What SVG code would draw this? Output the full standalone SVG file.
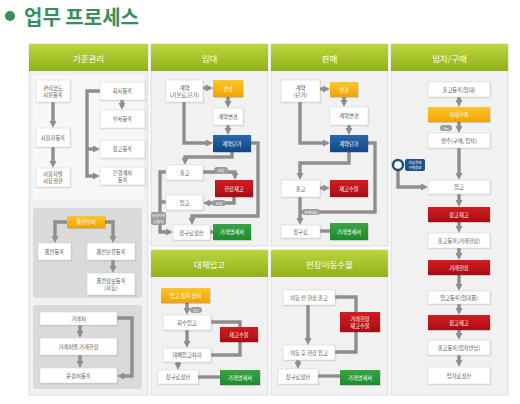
<svg xmlns="http://www.w3.org/2000/svg" width="520" height="404" viewBox="0 0 520 404">
<defs>
<linearGradient id="gh" x1="0" y1="0" x2="0" y2="1"><stop offset="0" stop-color="#bdd63c"/><stop offset="1" stop-color="#8fb11b"/></linearGradient>
<linearGradient id="go" x1="0" y1="0" x2="0" y2="1"><stop offset="0" stop-color="#fcc62a"/><stop offset="1" stop-color="#f0a300"/></linearGradient>
<linearGradient id="gb" x1="0" y1="0" x2="0" y2="1"><stop offset="0" stop-color="#2a68aa"/><stop offset="1" stop-color="#134783"/></linearGradient>
<linearGradient id="gr" x1="0" y1="0" x2="0" y2="1"><stop offset="0" stop-color="#d21c22"/><stop offset="1" stop-color="#a90e14"/></linearGradient>
<linearGradient id="gg" x1="0" y1="0" x2="0" y2="1"><stop offset="0" stop-color="#38a544"/><stop offset="1" stop-color="#1f8a2c"/></linearGradient>
<filter id="sh" x="-10%" y="-10%" width="130%" height="150%"><feDropShadow dx="0.6" dy="0.8" stdDeviation="0.6" flood-color="#000" flood-opacity="0.2"/></filter>
<marker id="ah" viewBox="0 0 10 10" refX="2" refY="5" markerWidth="2.2" markerHeight="2.2" orient="auto" markerUnits="strokeWidth"><path d="M0,0 L10,5 L0,10 z" fill="#8e8e8e"/></marker>
</defs>
<style>
.t{font-family:"Noto Sans CJK KR","Noto Sans",sans-serif;font-size:5.3px;fill:#555;text-anchor:middle;dominant-baseline:central}
.w{fill:#fff}
.h{font-family:"Noto Sans CJK KR","Noto Sans",sans-serif;font-size:8.5px;fill:#fff;text-anchor:middle;dominant-baseline:central}
.nd{fill:#fff;stroke:#d0d0d0;stroke-width:0.5;filter:url(#sh)}
.or{fill:url(#go);filter:url(#sh)}
.bl{fill:url(#gb);filter:url(#sh)}
.rd{fill:url(#gr);filter:url(#sh)}
.gn{fill:url(#gg);filter:url(#sh)}
.pb{fill:#f1f1f1;stroke:#d8d8d8;stroke-width:0.8}
.ph{fill:url(#gh)}
.sp{fill:#dadada}
.c{fill:none;stroke:#8e8e8e;stroke-width:3.4}
.a{marker-end:url(#ah)}
.tag{fill:#9c9c9c}
.tt{font-size:3.6px;fill:#fff}
</style>
<rect width="520" height="404" fill="#fff"/>
<g id="title">
<circle cx="10" cy="16" r="5" fill="#3a8d5c"/>
<text x="24" y="24.5" font-family="'Noto Sans CJK KR','Noto Sans',sans-serif" font-size="20" font-weight="bold" fill="#3a8d5c">업무 프로세스</text>
</g>
<g id="panels">
<rect class="pb" x="29" y="44" width="119" height="351"/><rect class="ph" x="29" y="44" width="119" height="27"/><text class="h" x="88.5" y="57.5">기준관리</text>
<rect x="32" y="74" width="113" height="126" fill="#f7f7f7" stroke="#dedede" stroke-width="0.5"/>
<rect class="sp" x="33" y="208" width="109" height="90" rx="3"/>
<rect class="sp" x="33" y="305" width="109" height="84" rx="3"/>
<rect class="pb" x="151" y="44" width="117" height="202"/><rect class="ph" x="151" y="44" width="117" height="27"/><text class="h" x="209.5" y="57.5">임대</text>
<rect class="pb" x="271" y="44" width="117" height="202"/><rect class="ph" x="271" y="44" width="117" height="27"/><text class="h" x="329.5" y="57.5">판매</text>
<rect class="pb" x="151" y="250" width="117" height="145"/><rect class="ph" x="151" y="250" width="117" height="27"/><text class="h" x="209.5" y="263.5">대체입고</text>
<rect class="pb" x="271" y="250" width="117" height="145"/><rect class="ph" x="271" y="250" width="117" height="27"/><text class="h" x="329.5" y="263.5">현장이동수불</text>
<rect class="pb" x="391" y="44" width="117" height="351"/><rect class="ph" x="391" y="44" width="117" height="27"/><text class="h" x="449.5" y="57.5">임차/구매</text>
</g>
<g id="connectors">
<path class="c a" d="M53,102 V122"/>
<path class="c a" d="M53,147 V162"/>
<path class="c a" d="M100,91 H87 V176 H94"/>
<path class="c a" d="M87,149 H94"/>
<path class="c a" d="M122,100 V104"/>
<path class="c a" d="M67,222 H55 V237"/>
<path class="c a" d="M105,222 H113 V237"/>
<path class="c a" d="M113,260 V267"/>
<path class="c a" d="M80,325 V332"/>
<path class="c a" d="M80,355 V362"/>
<path class="c a" d="M117,318 H132 V376 H123"/>
<path class="c a" d="M203,88 H207"/>
<path class="c a" d="M228,97 V102"/>
<path class="c a" d="M228,125 V129"/>
<path class="c a" d="M184,102 V143 H207"/>
<path class="c a" d="M232,152 V157 H185 V159"/>
<path class="c a" d="M251,143 H258 V216 H192 V219"/>
<path class="c a" d="M203,172 H235 V174"/>
<path class="c a" d="M234,197 V203 H209"/>
<path class="c a" d="M166,172 H160 V232 H167"/>
<path class="c" d="M166,202 H160"/>
<path class="c" d="M210,232 H213"/>
<path class="c a" d="M320,89 H324"/>
<path class="c a" d="M344,97 V101"/>
<path class="c a" d="M349,125 V129"/>
<path class="c a" d="M300,102 V143 H324"/>
<path class="c a" d="M349,152 V163 H300 V174"/>
<path class="c a" d="M320,188 H324"/>
<path class="c" d="M368,143 H375 V212 H300"/>
<path class="c a" d="M300,197 V219"/>
<path class="c" d="M320,231 H330"/>
<path class="c a" d="M187,303 V309"/>
<path class="c a" d="M187,330 V342"/>
<path class="c" d="M211,322 H240 V355 H211"/>
<path class="c a" d="M178,362 V364"/>
<path class="c" d="M198,377 H220"/>
<path class="c a" d="M308,305 V339"/>
<path class="c" d="M335,297 H356 V352 H335"/>
<path class="c a" d="M298,360 V363"/>
<path class="c" d="M318,376 H340"/>
<path class="c a" d="M459,97 V101"/>
<path class="c a" d="M459,122 V127"/>
<path class="c a" d="M459,148 V174"/>
<path class="c a" d="M459,194 V201"/>
<path class="c a" d="M459,222 V227"/>
<path class="c a" d="M459,248 V254"/>
<path class="c a" d="M459,275 V285"/>
<path class="c a" d="M459,304 V309"/>
<path class="c a" d="M459,330 V334"/>
<path class="c a" d="M459,355 V361"/>
<path class="c a" d="M398,171 V187 H422"/>
</g>
<g id="n-code"><rect class="nd" x="36" y="80" width="34" height="22"/><text class="t" x="53" y="87.5">관리코드</text><text class="t" x="53" y="95">사원등록</text></g>
<g id="n-user"><rect class="nd" x="36" y="128" width="34" height="19"/><text class="t" x="53" y="137.5">사용자등록</text></g>
<g id="n-auth"><rect class="nd" x="36" y="168" width="34" height="19"/><text class="t" x="53" y="174">사용자별</text><text class="t" x="53" y="181">사용권한</text></g>
<g id="n-company"><rect class="nd" x="100" y="82" width="45" height="18"/><text class="t" x="122.5" y="91">회사등록</text></g>
<g id="n-dept"><rect class="nd" x="100" y="110" width="45" height="18"/><text class="t" x="122.5" y="119">부서등록</text></g>
<g id="n-wh"><rect class="nd" x="100" y="140" width="45" height="18"/><text class="t" x="122.5" y="149">창고등록</text></g>
<g id="n-bank"><rect class="nd" x="100" y="167" width="45" height="18"/><text class="t" x="122.5" y="172.5">은행계좌</text><text class="t" x="122.5" y="179.5">등록</text></g>
<g id="n-pnum"><rect class="or" x="67" y="216" width="38" height="12"/><text class="t w" x="86" y="222">품번부여</text></g>
<g id="n-preg"><rect class="nd" x="38" y="243" width="33" height="17"/><text class="t" x="54.5" y="251.5">품번등록</text></g>
<g id="n-pcls"><rect class="nd" x="87" y="243" width="48" height="17"/><text class="t" x="111" y="251.5">품번분류등록</text></g>
<g id="n-pinfo"><rect class="nd" x="87" y="273" width="48" height="22"/><text class="t" x="111" y="280.5">품번정보등록</text><text class="t" x="111" y="287.5">(자동)</text></g>
<g id="n-client"><rect class="nd" x="40" y="312" width="77" height="13"/><text class="t" x="78.5" y="318.5">거래처</text></g>
<g id="n-site"><rect class="nd" x="40" y="338" width="77" height="17"/><text class="t" x="78.5" y="346.5">거래처별 거래현장</text></g>
<g id="n-freight"><rect class="nd" x="40" y="368" width="77" height="15"/><text class="t" x="78.5" y="375.5">운송비등록</text></g>
<g id="r-contract"><rect class="nd" x="166" y="80" width="37" height="22"/><text class="t" x="184.5" y="87.5">계약</text><text class="t" x="184.5" y="94.5">(기본료,단가)</text></g>
<g id="r-change"><rect class="or" x="213" y="80" width="30" height="17"/><text class="t w" x="228" y="88.5">변경</text></g>
<g id="r-cchange"><rect class="nd" x="213" y="108" width="30" height="17"/><text class="t" x="228" y="116.5">계약변경</text></g>
<g id="r-price"><rect class="bl" x="213" y="135" width="38" height="17"/><text class="t w" x="232" y="143.5">계약단가</text></g>
<g id="r-out"><rect class="nd" x="166" y="165" width="37" height="15"/><text class="t" x="184.5" y="172.5">출고</text></g>
<g id="r-stock"><rect class="rd" x="215" y="180" width="38" height="17"/><text class="t w" x="234" y="188.5">현장재고</text></g>
<g id="r-in"><rect class="nd" x="166" y="195" width="37" height="15"/><text class="t" x="184.5" y="202.5">입고</text></g>
<g id="r-bill"><rect class="nd" x="173" y="225" width="37" height="15"/><text class="t" x="191.5" y="232.5">청구료정산</text></g>
<g id="r-stmt"><rect class="gn" x="213" y="224" width="38" height="16"/><text class="t w" x="232" y="232">거래명세서</text></g>
<g id="r-tag1"><rect class="tag" x="214" y="167" width="14" height="6" rx="3"/><text class="t tt" x="221" y="170">운송</text></g>
<g id="r-tag2"><rect class="tag" x="212" y="200" width="14" height="6" rx="3"/><text class="t tt" x="219" y="203">운송</text></g>
<g id="r-tag3"><rect class="tag" x="151" y="212" width="15" height="13" rx="2"/><text class="t tt" x="158.5" y="215.5">유휴자재</text><text class="t tt" x="158.5" y="221">입출처</text></g>
<g id="s-contract"><rect class="nd" x="281" y="80" width="39" height="22"/><text class="t" x="300.5" y="87.5">계약</text><text class="t" x="300.5" y="94.5">(단가)</text></g>
<g id="s-change"><rect class="or" x="330" y="82" width="28" height="15"/><text class="t w" x="344" y="89.5">변경</text></g>
<g id="s-cchange"><rect class="nd" x="330" y="107" width="38" height="18"/><text class="t" x="349" y="116">계약변경</text></g>
<g id="s-price"><rect class="bl" x="330" y="135" width="38" height="17"/><text class="t w" x="349" y="143.5">계약단가</text></g>
<g id="s-out"><rect class="nd" x="281" y="180" width="39" height="17"/><text class="t" x="300.5" y="188.5">출고</text></g>
<g id="s-stock"><rect class="rd" x="330" y="180" width="38" height="17"/><text class="t w" x="349" y="188.5">재고수불</text></g>
<g id="s-bill"><rect class="nd" x="281" y="225" width="39" height="13"/><text class="t" x="300.5" y="231.5">청구료</text></g>
<g id="s-stmt"><rect class="gn" x="330" y="223" width="38" height="17"/><text class="t w" x="349" y="231.5">거래명세서</text></g>
<g id="s-tag"><rect class="tag" x="302" y="209" width="18" height="6" rx="3"/><text class="t tt" x="311" y="212">판매대금</text></g>
<g id="a-diff"><rect class="or" x="161" y="288" width="49" height="15"/><text class="t w" x="185.5" y="295.5">입고 품목 상이</text></g>
<g id="a-yes"><rect class="tag" x="190" y="307" width="12" height="6" rx="3"/><text class="t tt" x="196" y="310">YES</text></g>
<g id="a-ret"><rect class="nd" x="163" y="315" width="48" height="15"/><text class="t" x="187" y="322.5">회수입고</text></g>
<g id="a-stock"><rect class="rd" x="220" y="327" width="38" height="15"/><text class="t w" x="239" y="334.5">재고수불</text></g>
<g id="a-proc"><rect class="nd" x="163" y="348" width="48" height="14"/><text class="t" x="187" y="355">대체입고처리</text></g>
<g id="a-bill"><rect class="nd" x="158" y="370" width="40" height="14"/><text class="t" x="178" y="377">청구료정산</text></g>
<g id="a-stmt"><rect class="gn" x="220" y="370" width="40" height="15"/><text class="t w" x="240" y="377.5">거래명세서</text></g>
<g id="m-out"><rect class="nd" x="283" y="290" width="52" height="15"/><text class="t" x="309" y="297.5">이동 전 현장 출고</text></g>
<g id="m-stock"><rect class="rd" x="340" y="312" width="40" height="20"/><text class="t w" x="360" y="318.5">거래현장</text><text class="t w" x="360" y="325.5">재고수불</text></g>
<g id="m-in"><rect class="nd" x="283" y="345" width="52" height="15"/><text class="t" x="309" y="352.5">이동 후 현장 입고</text></g>
<g id="m-bill"><rect class="nd" x="278" y="369" width="40" height="15"/><text class="t" x="298" y="376.5">청구료정산</text></g>
<g id="m-stmt"><rect class="gn" x="340" y="370" width="40" height="15"/><text class="t w" x="360" y="377.5">거래명세서</text></g>
<g id="p-out1"><rect class="nd" x="428" y="82" width="62" height="15"/><text class="t" x="459" y="89.5">출고등록(임대)</text></g>
<g id="p-short"><rect class="or" x="428" y="107" width="62" height="15"/><text class="t w" x="459" y="114.5">자재부족</text></g>
<g id="p-yes"><rect class="tag" x="440" y="125" width="12" height="6" rx="3"/><text class="t tt" x="446" y="128">Yes</text></g>
<g id="p-order"><rect class="nd" x="428" y="133" width="62" height="15"/><text class="t" x="459" y="140.5">발주(구매, 임차)</text></g>
<g id="p-pay"><circle cx="398" cy="165" r="5" fill="#fff" stroke="#1f4f8c" stroke-width="2.5"/><rect x="405" y="159" width="20" height="12" rx="2" fill="#1f4f8c"/><text class="t tt" x="415" y="162.3">대금결제</text><text class="t tt" x="415" y="167.5">구매종료</text></g>
<g id="p-in"><rect class="nd" x="428" y="180" width="62" height="14"/><text class="t" x="459" y="187">입고</text></g>
<g id="p-wh1"><rect class="rd" x="428" y="207" width="62" height="15"/><text class="t w" x="459" y="214.5">창고재고</text></g>
<g id="p-out2"><rect class="nd" x="428" y="233" width="62" height="15"/><text class="t" x="459" y="240.5">출고등록(거래현장)</text></g>
<g id="p-site"><rect class="rd" x="428" y="260" width="62" height="15"/><text class="t w" x="459" y="267.5">거래현장</text></g>
<g id="p-in2"><rect class="nd" x="428" y="291" width="62" height="13"/><text class="t" x="459" y="297.5">입고등록(임대품)</text></g>
<g id="p-wh2"><rect class="rd" x="428" y="315" width="62" height="15"/><text class="t w" x="459" y="322.5">창고재고</text></g>
<g id="p-out3"><rect class="nd" x="428" y="340" width="62" height="15"/><text class="t" x="459" y="347.5">출고등록(임차반납)</text></g>
<g id="p-settle"><rect class="nd" x="428" y="367" width="62" height="17"/><text class="t" x="459" y="375.5">임차료정산</text></g>
</svg>
